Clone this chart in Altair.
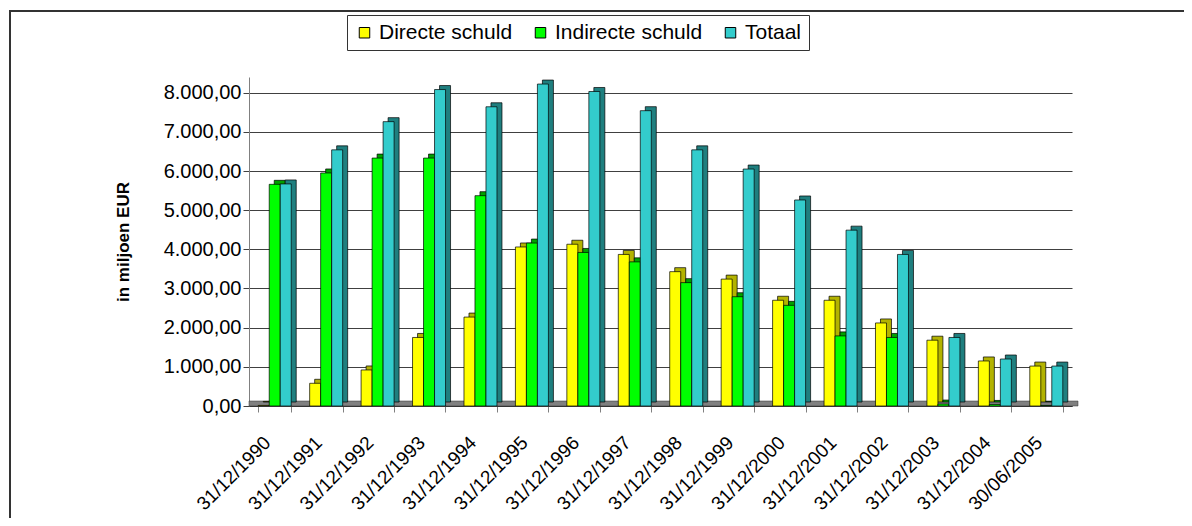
import altair as alt
import pandas as pd

dates = ["31/12/1990", "31/12/1991", "31/12/1992", "31/12/1993", "31/12/1994",
         "31/12/1995", "31/12/1996", "31/12/1997", "31/12/1998", "31/12/1999",
         "31/12/2000", "31/12/2001", "31/12/2002", "31/12/2003", "31/12/2004",
         "30/06/2005"]
directe = [15, 580, 920, 1750, 2270, 4060, 4130, 3870, 3430, 3240, 2700, 2700, 2120, 1680, 1150, 1020]
indirecte = [5660, 5950, 6330, 6330, 5370, 4160, 3920, 3680, 3150, 2790, 2570, 1790, 1750, 50, 40, 15]
totaal = [5670, 6540, 7260, 8080, 7640, 8220, 8030, 7540, 6540, 6050, 5260, 4490, 3870, 1750, 1200, 1020]

series_names = ["Directe schuld", "Indirecte schuld", "Totaal"]
front_colors = ["#FFFF00", "#00FF00", "#33CCCC"]
depth_colors = ["#B3B300", "#00A000", "#1F7F7F"]

rows = []
for name, vals in zip(series_names, [directe, indirecte, totaal]):
    for d, v in zip(dates, vals):
        rows.append({"datum": d, "reeks": name, "waarde": v})
df = pd.DataFrame(rows)

W, H = 823, 329
BAR = 11
DX, DY = 5, -4

x_enc = alt.X("datum:N", sort=dates, title=None,
              scale=alt.Scale(paddingInner=0.36, paddingOuter=0.18),
              axis=alt.Axis(labelAngle=-45, labelFontSize=19, labelFont="Liberation Sans",
                            labelColor="black", labelPadding=21, labelOffset=-14,
                            tickBand="extent",
                            tickColor="#808080", tickSize=6, domainColor="#333333",
                            domainWidth=1, grid=False, zindex=1))
y_enc = alt.Y("waarde:Q", title="in miljoen EUR",
              scale=alt.Scale(domain=[0, 8400], nice=False),
              axis=alt.Axis(values=[0, 1000, 2000, 3000, 4000, 5000, 6000, 7000, 8000],
                            labelExpr="replace(replace(replace(format(datum.value, ',.2f'), ',', '#'), '.', ','), '#', '.')",
                            labelFontSize=20, labelFont="Liberation Sans", labelColor="black",
                            titleFontSize=17, titleFont="Liberation Sans", titleFontWeight="bold",
                            titleColor="black", titlePadding=31,
                            gridColor="#404040", gridWidth=1, domainColor="#808080",
                            tickColor="#404040", tickSize=6, labelPadding=2))

base = alt.Chart(df)

frame = alt.Chart(alt.Data(values=[{"k": 1}])).mark_rect(
    fill="white", fillOpacity=0, stroke="#333333", strokeWidth=2
).encode(x=alt.value(-239), x2=alt.value(960), y=alt.value(-66), y2=alt.value(470))

floor = alt.Chart(alt.Data(values=[{"k": 1}])).mark_rect(
    fill="#808080", stroke="#333333", strokeWidth=0.5
).encode(x=alt.value(0), x2=alt.value(W + 6), y=alt.value(H), y2=alt.value(H - 5))

layers = [frame, floor]
offsets = [-BAR, 0, BAR]
for name, fc, dc, off in zip(series_names, front_colors, depth_colors, offsets):
    depth = base.transform_filter(alt.datum.reeks == name).mark_bar(
        width=BAR, xOffset=off + DX, yOffset=DY, color=dc,
        stroke="black", strokeWidth=0.7
    ).encode(x=x_enc, y=y_enc)
    front = base.transform_filter(alt.datum.reeks == name).mark_bar(
        width=BAR, xOffset=off, stroke="black", strokeWidth=0.7
    ).encode(
        x=x_enc, y=y_enc,
        color=alt.Color("reeks:N", sort=series_names,
                        scale=alt.Scale(domain=series_names, range=front_colors),
                        legend=alt.Legend(title=None, orient="none", legendX=98, legendY=-62,
                                          direction="horizontal", strokeColor="#333333",
                                          fillColor="white", padding=7,
                                          labelFontSize=21, labelFont="Liberation Sans",
                                          labelColor="black", symbolType="square",
                                          symbolSize=110, symbolStrokeColor="black",
                                          symbolStrokeWidth=1, columnPadding=17,
                                          labelOffset=4))
    )
    layers += [depth, front]

chart = alt.layer(*layers).properties(
    width=W, height=H,
    autosize=alt.AutoSizeParams(type="none"),
    padding={"left": 241, "top": 69, "right": 112, "bottom": 112},
    background="white",
).configure_view(stroke=None)

chart.save("out.html", embed_options={"renderer": "svg", "actions": False})
